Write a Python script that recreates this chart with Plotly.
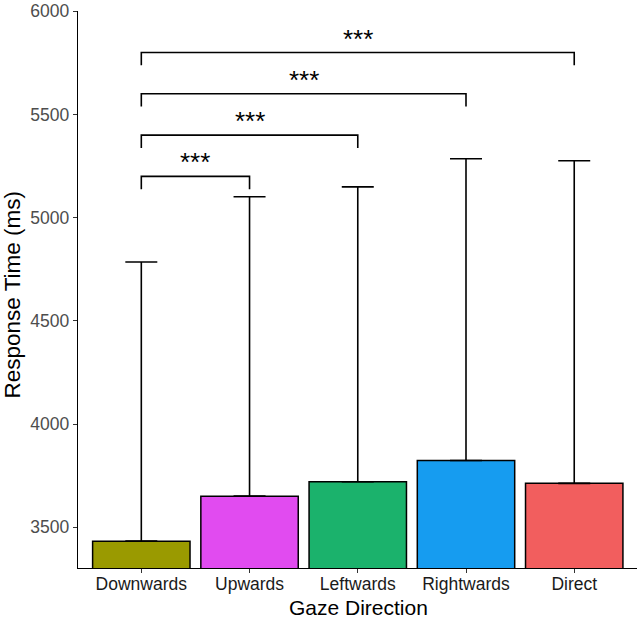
import plotly.graph_objects as go

categories = ["Downwards", "Upwards", "Leftwards", "Rightwards", "Direct"]
mean_rt = [3433, 3651, 3721, 3824, 3713]
upper_rt = [4785, 5101, 5149, 5285, 5276]
bar_colors = ["#9A9A00", "#E14BF0", "#1BB26C", "#169CF0", "#F25E5E"]

bracket_from = [0, 0, 0, 0]
bracket_to = [1, 2, 3, 4]
bracket_y = [5200, 5400, 5600, 5800]
bracket_label = ["***", "***", "***", "***"]
tick_drop = 62

xpos = list(range(len(categories)))
err_plus = [u - m for u, m in zip(upper_rt, mean_rt)]

FONT = "Liberation Sans, Arial, sans-serif"

fig = go.Figure()
fig.add_trace(go.Bar(
    x=xpos, y=mean_rt, width=0.9,
    marker=dict(color=bar_colors, line=dict(color="black", width=1.5)),
    error_y=dict(type="data", symmetric=False, array=err_plus,
                 arrayminus=[0] * len(mean_rt), color="black",
                 thickness=1.6, width=16),
    showlegend=False,
))

for a, b, y, lab in zip(bracket_from, bracket_to, bracket_y, bracket_label):
    fig.add_trace(go.Scatter(
        x=[a, a, b, b], y=[y - tick_drop, y, y, y - tick_drop],
        mode="lines", line=dict(color="black", width=1.6),
        showlegend=False, hoverinfo="skip",
    ))
    fig.add_annotation(x=(a + b) / 2, y=y, text=lab, showarrow=False,
                       yanchor="bottom", yshift=-3,
                       font=dict(family=FONT, size=26, color="black"))

# axis titles as annotations for precise placement
fig.add_annotation(text="Gaze Direction", xref="paper", yref="paper",
                   x=0.5, y=0, xanchor="center", yanchor="middle",
                   xshift=1, yshift=-39, showarrow=False, borderpad=0,
                   font=dict(family=FONT, size=21, color="black"))
fig.add_annotation(text="Response Time (ms)", xref="paper", yref="paper",
                   x=0, y=0.5, xanchor="center", yanchor="middle",
                   xshift=-66, yshift=-5, textangle=-90, showarrow=False,
                   font=dict(family=FONT, size=22.5, color="black"))

fig.update_layout(
    width=640, height=618,
    margin=dict(l=78, r=3, t=11, b=50),
    plot_bgcolor="white", paper_bgcolor="white",
    font=dict(family=FONT, size=17, color="#4D4D4D"),
    bargap=0.1,
)
fig.update_xaxes(
    range=[-0.585, 4.58], tickvals=xpos, ticktext=categories,
    showline=True, linecolor="black", linewidth=1.4,
    ticks="outside", ticklen=4, tickcolor="#333333", tickwidth=1.2,
    tickfont=dict(family=FONT, size=17.5, color="#1A1A1A"),
    ticklabelstandoff=-4, automargin=False,
    showgrid=False, zeroline=False,
)
fig.update_yaxes(
    range=[3303, 6001], tickvals=[3500, 4000, 4500, 5000, 5500, 6000],
    showline=True, linecolor="black", linewidth=1.4,
    ticks="outside", ticklen=4, tickcolor="#333333", tickwidth=1.2,
    tickfont=dict(family=FONT, size=17.5, color="#4D4D4D"),
    ticklabeloverflow="allow", automargin=False,
    showgrid=False, zeroline=False,
)

fig.write_html("out.html")
